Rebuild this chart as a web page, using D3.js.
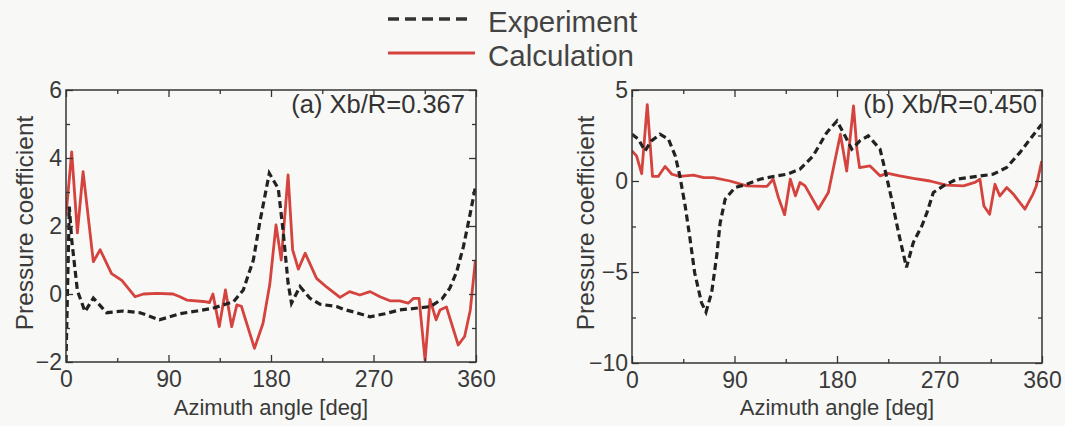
<!DOCTYPE html>
<html>
<head>
<meta charset="utf-8">
<script src="https://cdn.jsdelivr.net/npm/d3@7"></script>
<style>
    body { margin: 0; background: #f8f8f6; }
    svg { display: block; font-family: "Liberation Sans", Arial, sans-serif; }
</style>
</head>
<body>
<div id="chart"></div>
<script>
// panel (a) Xb/R=0.367
var expAngleA = [0, 2.9, 5, 10, 16.7, 24, 35.7, 50, 65, 82, 100, 115, 129, 140, 147, 155.7, 164.5, 170, 178.5, 186.4,
    190.8, 195, 198, 205.5, 214, 223, 237.7, 243.5, 255, 267, 280, 293, 307, 320, 330, 337, 343, 349, 355, 359.5];
var expCpA = [-2.0, 2.57, 1.6, 0.1, -0.52, -0.12, -0.55, -0.5, -0.55, -0.76, -0.58, -0.5, -0.42, -0.3, -0.23, 0.12, 1.0, 2.08, 3.55, 3.1,
    1.8, 0.32, -0.27, 0.22, -0.12, -0.3, -0.37, -0.45, -0.55, -0.67, -0.58, -0.47, -0.42, -0.37, -0.15, 0.17, 0.65, 1.4, 2.38, 3.15];
var calcAngleA = [0, 5, 10, 15, 24, 30, 40, 49, 60.6, 68, 80, 94, 100, 106, 120.6, 126, 129, 134.6, 140, 145.5,
    150, 154, 165.5, 173, 179, 184.4, 189, 195, 199, 204, 210, 220, 229, 240.6, 249, 258, 267, 275.7, 284.5, 293,
    300.5, 305, 310, 315.3, 319.6, 325, 328.4, 334, 344.4, 350, 355, 359.5];
var calcCpA = [2.3, 4.18, 1.8, 3.6, 0.95, 1.3, 0.6, 0.4, -0.08, 0.0, 0.02, 0.0, -0.08, -0.18, -0.22, -0.25, 0.0, -0.96, 0.12, -0.96,
    -0.32, -0.36, -1.6, -0.86, 0.3, 2.03, 1.0, 3.5, 1.3, 0.73, 1.2, 0.46, 0.2, -0.1, 0.07, -0.03, 0.07, -0.08, -0.2, -0.2,
    -0.27, -0.13, -0.13, -1.95, -0.16, -0.76, -0.47, -0.38, -1.5, -1.25, -0.47, 1.0];

// panel (b) Xb/R=0.450
var expAngleB = [0, 5.6, 11.4, 17, 24.6, 32, 38, 42, 46.7, 51, 55, 61, 65, 70, 74.4, 77.4, 81.8, 90.4, 100.7, 112.4,
    124, 136, 147.5, 159, 171, 180, 187, 193, 200, 207.5, 217.8, 222, 228, 234, 241, 247, 254.5, 259, 264.6, 273.4,
    285, 299.7, 317, 329, 340.7, 349.5, 359.8];
var expCpB = [2.57, 2.3, 1.65, 2.2, 2.57, 2.3, 1.38, 0.28, -1.37, -3.2, -5.03, -6.68, -7.2, -6.1, -4.1, -2.3, -1.0, -0.36, -0.18, 0.1,
    0.25, 0.37, 0.65, 1.38, 2.66, 3.3, 2.48, 1.75, 2.2, 2.48, 1.75, 0.65, -1.0, -2.83, -4.75, -3.38, -2.47, -1.73, -0.63, -0.27,
    0.1, 0.23, 0.37, 0.74, 1.57, 2.3, 3.12];
var calcAngleB = [0, 4, 8.5, 13.4, 18, 23, 29, 35, 42, 54, 63, 71.5, 86, 100.7, 118.5, 124, 128.5, 134, 139, 143.5,
    147.5, 152, 163.6, 172.4, 183, 188.5, 194.5, 197.5, 199.8, 209, 218, 223.7, 235, 247, 261.6, 276, 291, 301, 305.5, 309,
    314, 318.7, 323, 329, 335, 345, 352, 355, 359.8];
var calcCpB = [1.65, 1.38, 0.4, 4.2, 0.25, 0.25, 0.8, 0.37, 0.25, 0.32, 0.19, 0.19, 0.0, -0.27, -0.3, 0.1, -0.9, -1.85, 0.1, -0.82,
    -0.08, -0.27, -1.55, -0.63, 2.57, 0.55, 4.13, 1.75, 0.74, 0.83, 0.28, 0.43, 0.28, 0.14, 0.0, -0.23, -0.27, -0.08, 0.1, -1.37,
    -1.83, -0.18, -0.82, -0.36, -0.73, -1.55, -0.73, -0.27, 1.1];

var xTicks = [0, 90, 180, 270, 360];
var xMinor = [45, 135, 225, 315];
var yTicksA = [-2, 0, 2, 4, 6];
var yMinorA = [-1, 1, 3, 5];
var yTicksB = [-10, -5, 0, 5];
var yMinorB = [-7.5, -2.5, 2.5];

var width = 1065, height = 426;
var ink = '#353535';
var red = '#d4433d';

var svg = d3.select('#chart').append('svg')
    .attr('width', width)
    .attr('height', height);

var panels = [
    { left: 66, right: 476, top: 90, bottom: 362, domain: [-2, 6], ticks: yTicksA, minor: yMinorA,
      title: '(a) Xb/R=0.367', titleRight: 465, ylabelX: 33,
      exp: d3.zip(expAngleA, expCpA), calc: d3.zip(calcAngleA, calcCpA) },
    { left: 632, right: 1042, top: 90, bottom: 363, domain: [-10, 5], ticks: yTicksB, minor: yMinorB,
      title: '(b) Xb/R=0.450', titleRight: 1037, ylabelX: 594,
      exp: d3.zip(expAngleB, expCpB), calc: d3.zip(calcAngleB, calcCpB) }
];

panels.forEach(drawPanel);

function drawPanel(p) {
    var x = d3.scaleLinear().domain([0, 360]).range([p.left, p.right]);
    var y = d3.scaleLinear().domain(p.domain).range([p.bottom, p.top]);

    var g = svg.append('g');

    var clipId = 'clip' + p.left;
    g.append('clipPath').attr('id', clipId)
        .append('rect')
        .attr('x', p.left).attr('y', p.top)
        .attr('width', p.right - p.left).attr('height', p.bottom - p.top);

    var line = d3.line()
        .x(function (d) { return x(d[0]); })
        .y(function (d) { return y(d[1]); });

    var curves = g.append('g').attr('clip-path', 'url(#' + clipId + ')');

    curves.append('path')
        .datum(p.calc)
        .attr('d', line)
        .attr('fill', 'none')
        .attr('stroke', red)
        .attr('stroke-width', 2.8)
        .attr('stroke-linejoin', 'round');

    curves.append('path')
        .datum(p.exp)
        .attr('d', line)
        .attr('fill', 'none')
        .attr('stroke', '#222')
        .attr('stroke-width', 3.2)
        .attr('stroke-dasharray', '7,4');

    // inward ticks on all four sides, matlab style
    var axes = [
        [d3.axisBottom(x).tickValues(xTicks).tickSize(-7).tickPadding(9), 'translate(0,' + p.bottom + ')', true],
        [d3.axisBottom(x).tickValues(xMinor).tickSize(-4).tickFormat(''), 'translate(0,' + p.bottom + ')', false],
        [d3.axisTop(x).tickValues(xTicks).tickSize(-7).tickFormat(''), 'translate(0,' + p.top + ')', false],
        [d3.axisTop(x).tickValues(xMinor).tickSize(-4).tickFormat(''), 'translate(0,' + p.top + ')', false],
        [d3.axisLeft(y).tickValues(p.ticks).tickSize(-7).tickPadding(4), 'translate(' + p.left + ',0)', true],
        [d3.axisLeft(y).tickValues(p.minor).tickSize(-4).tickFormat(''), 'translate(' + p.left + ',0)', false],
        [d3.axisRight(y).tickValues(p.ticks).tickSize(-7).tickFormat(''), 'translate(' + p.right + ',0)', false],
        [d3.axisRight(y).tickValues(p.minor).tickSize(-4).tickFormat(''), 'translate(' + p.right + ',0)', false]
    ];

    axes.forEach(function (a) {
        var ag = g.append('g')
            .attr('transform', a[1])
            .call(a[0].tickSizeOuter(0));
        ag.select('.domain').remove();
        ag.selectAll('line').attr('stroke', ink).attr('stroke-width', 1.3);
        if (a[2]) {
            ag.selectAll('text')
                .attr('fill', '#3a3a3a')
                .style('font-size', '23px');
        }
    });

    g.append('rect')
        .attr('x', p.left).attr('y', p.top)
        .attr('width', p.right - p.left).attr('height', p.bottom - p.top)
        .attr('fill', 'none')
        .attr('stroke', ink)
        .attr('stroke-width', 1.5);

    g.append('text')
        .attr('x', p.titleRight)
        .attr('y', 113)
        .attr('text-anchor', 'end')
        .attr('fill', '#333')
        .style('font-size', '25.5px')
        .text(p.title);

    g.append('text')
        .attr('x', (p.left + p.right) / 2)
        .attr('y', 415)
        .attr('text-anchor', 'middle')
        .attr('fill', '#3a3a3a')
        .style('font-size', '22px')
        .text('Azimuth angle [deg]');

    g.append('text')
        .attr('transform', 'translate(' + p.ylabelX + ',' + 223 + ') rotate(-90)')
        .attr('text-anchor', 'middle')
        .attr('fill', '#3a3a3a')
        .style('font-size', '24.5px')
        .text('Pressure coefficient');
}

// legend
var legend = svg.append('g');
legend.append('line')
    .attr('x1', 388).attr('x2', 470).attr('y1', 19).attr('y2', 19)
    .attr('stroke', '#333').attr('stroke-width', 3.5)
    .attr('stroke-dasharray', '11,6');
legend.append('line')
    .attr('x1', 388).attr('x2', 475).attr('y1', 53).attr('y2', 53)
    .attr('stroke', red).attr('stroke-width', 2.8);
legend.append('text')
    .attr('x', 488).attr('y', 32)
    .attr('fill', '#444')
    .style('font-size', '29.5px')
    .text('Experiment');
legend.append('text')
    .attr('x', 488).attr('y', 66)
    .attr('fill', '#444')
    .style('font-size', '29.5px')
    .text('Calculation');
</script>
</body>
</html>
